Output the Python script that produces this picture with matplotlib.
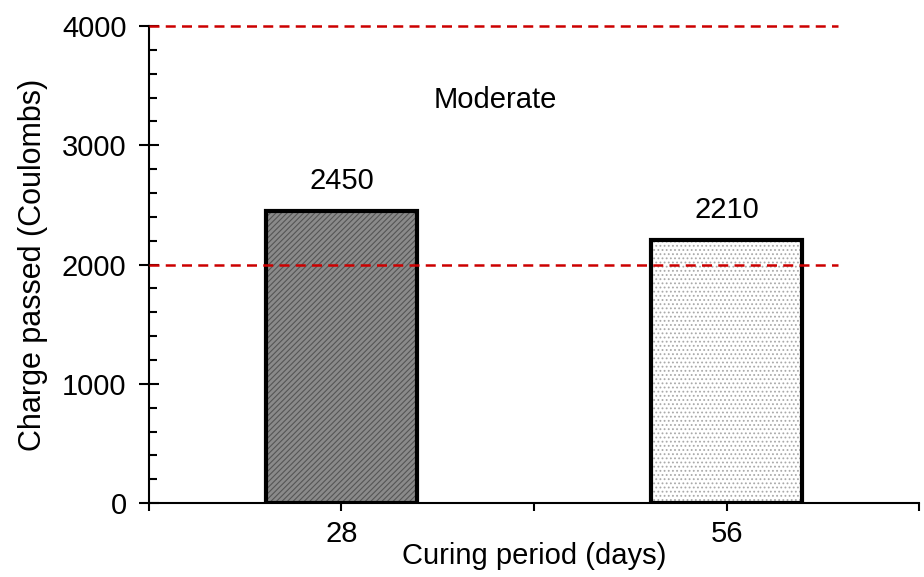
import matplotlib
matplotlib.use("Agg")
import matplotlib.pyplot as plt
from matplotlib.ticker import MultipleLocator

plt.rcParams['font.family'] = ['Liberation Sans', 'DejaVu Sans']
plt.rcParams['hatch.linewidth'] = 0.8

categories = ["28", "56"]
values = [2450, 2210]
limits = [2000, 4000]
zone_label = "Moderate"

fig = plt.figure(figsize=(9.24, 5.77), dpi=100)
ax = fig.add_axes([0.161, 0.128, 0.834, 0.827])

pos = [1, 3]
b1 = ax.bar(pos[0], values[0], width=0.785, facecolor='#8a8a8a', edgecolor='black',
            linewidth=3, hatch='//////', zorder=2)
b2 = ax.bar(pos[1], values[1], width=0.785, facecolor='white', edgecolor='black',
            linewidth=3, hatch='....', zorder=2)
for p, hc in ((b1[0], '#555555'), (b2[0], '#aaaaaa')):
    p._hatch_color = matplotlib.colors.to_rgba(hc)

for x, v in zip(pos, values):
    ax.text(x, v + 130, str(v), ha='center', va='bottom', fontsize=21)

for lim in limits:
    ax.axhline(lim, xmin=0, xmax=0.894, color='#cc0000', linestyle='--', linewidth=1.8,
               dashes=(4, 2.5), zorder=3, clip_on=False)

ax.text(1.80, 3380, zone_label, ha='center', va='center', fontsize=21)

ax.set_xlim(0, 4)
ax.set_ylim(0, 4000)
ax.set_xticks(pos)
ax.set_xticklabels(categories)
ax.xaxis.set_minor_locator(MultipleLocator(2))
ax.yaxis.set_major_locator(MultipleLocator(1000))
ax.yaxis.set_minor_locator(MultipleLocator(200))

ax.spines['top'].set_visible(False)
ax.spines['right'].set_visible(False)
for s in ('left', 'bottom'):
    ax.spines[s].set_linewidth(1.5)

ax.tick_params(axis='y', which='major', direction='inout', length=14, width=1.5, labelsize=21, pad=9)
ax.tick_params(axis='y', which='minor', direction='in', length=6, width=1.5)
ax.tick_params(axis='x', which='both', direction='out', length=6, width=1.5, labelsize=21, pad=6)

ax.set_xlabel("Curing period (days)", fontsize=21, labelpad=-4)
ax.set_ylabel("Charge passed (Coulombs)", fontsize=22, labelpad=10)

fig.savefig("out.png", dpi=100)
